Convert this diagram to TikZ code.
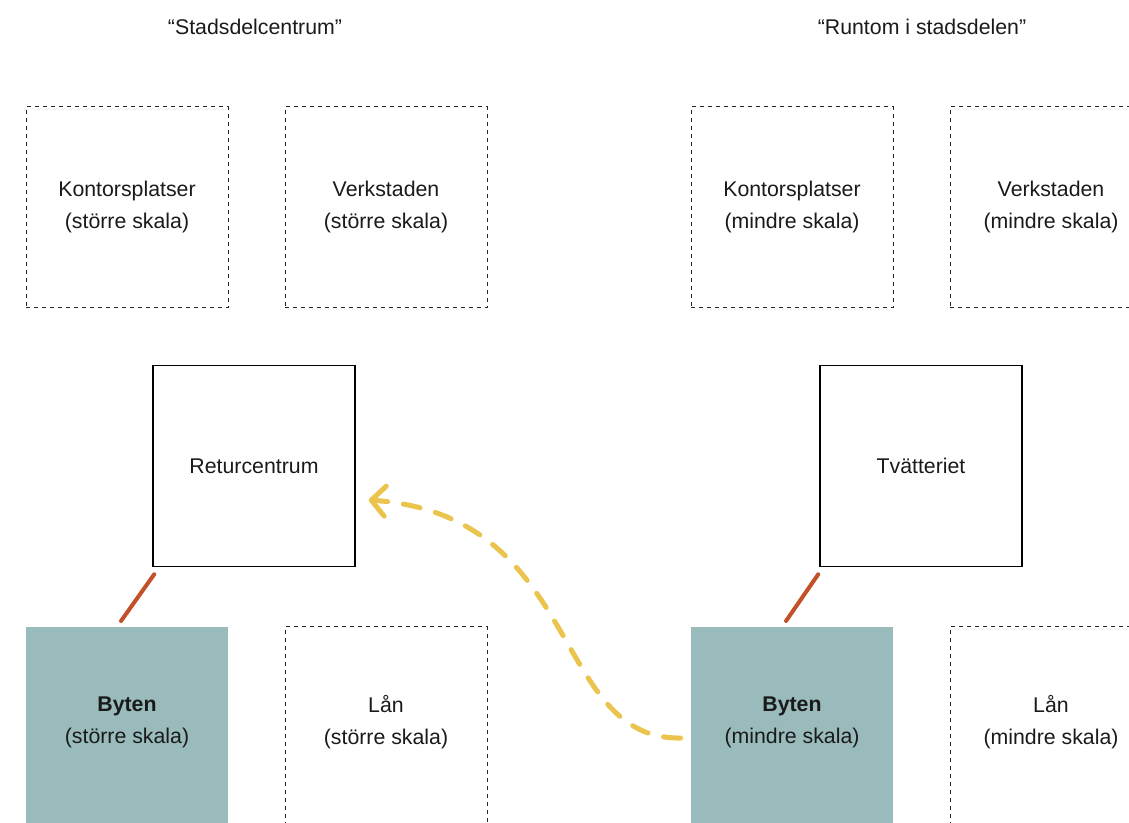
\documentclass[tikz,border=0pt]{standalone}
\usepackage{fontspec}
\setmainfont{Liberation Sans}
\usepackage{tikz}
\usetikzlibrary{arrows.meta, calc}
\definecolor{bytefill}{RGB}{154,187,187}
\definecolor{linkred}{RGB}{194,80,40}
\definecolor{flowyellow}{RGB}{234,196,76}
\definecolor{txt}{RGB}{26,26,26}

\begin{document}
\begin{tikzpicture}[x=1pt, y=-1pt,
  area/.style={rectangle, draw=black!85, dash pattern=on 4pt off 4pt, line width=1pt, minimum width=202pt, minimum height=201pt, align=center, text=txt, font=\fontsize{21.3}{32}\selectfont},
  place/.style={area, solid, line width=1.5pt, draw=black},
  swap/.style={area, draw=none, fill=bytefill},
  low/.style={text depth=14pt},
  head/.style={text=txt, font=\fontsize{21.3}{26}\selectfont},
  link/.style={draw=linkred, line width=4pt, line cap=round},
  flow/.style={draw=flowyellow, line width=5pt, line cap=round, dash pattern=on 17pt off 16pt, -{Straight Barb[length=14pt, width=30pt, line join=round, line cap=round]}},
]
\path[use as bounding box] (0,0) rectangle (1129,822);
\clip (0,0) rectangle (1129,822);

\node[head] (hleft)  at (255,27) {“Stadsdelcentrum”};
\node[head] (hright) at (922,27) {“Runtom i stadsdelen”};

% stadsdelcentrum
\node[area]  (kontl) at (127,207) {Kontorsplatser\\(större skala)};
\node[area]  (verkl) at (386,207) {Verkstaden\\(större skala)};
\node[place] (retur) at (254,466) {Returcentrum};
\node[swap, low] (bytl) at (127,727) {\textbf{Byten}\\(större skala)};
\node[area, low] (lanl) at (386,727) {Lån\\(större skala)};

% runtom i stadsdelen
\node[area]  (kontr) at (792,207) {Kontorsplatser\\(mindre skala)};
\node[area]  (verkr) at (1051,207) {Verkstaden\\(mindre skala)};
\node[place] (tvatt) at (921,466) {Tvätteriet};
\node[swap, low] (bytr) at (792,727) {\textbf{Byten}\\(mindre skala)};
\node[area, low] (lanr) at (1051,727) {Lån\\(mindre skala)};

\draw[link] ([shift={(2,7)}]retur.south west) -- ([shift={(-6,-5)}]bytl.north);
\draw[link] ([shift={(-1,7)}]tvatt.south west) -- ([shift={(-6,-5)}]bytr.north);

\draw[flow] ([shift={(-10,11)}]bytr.west) .. controls +(-130,2) and +(215,15) .. ([shift={(13,34)}]retur.east);
\end{tikzpicture}
\end{document}
